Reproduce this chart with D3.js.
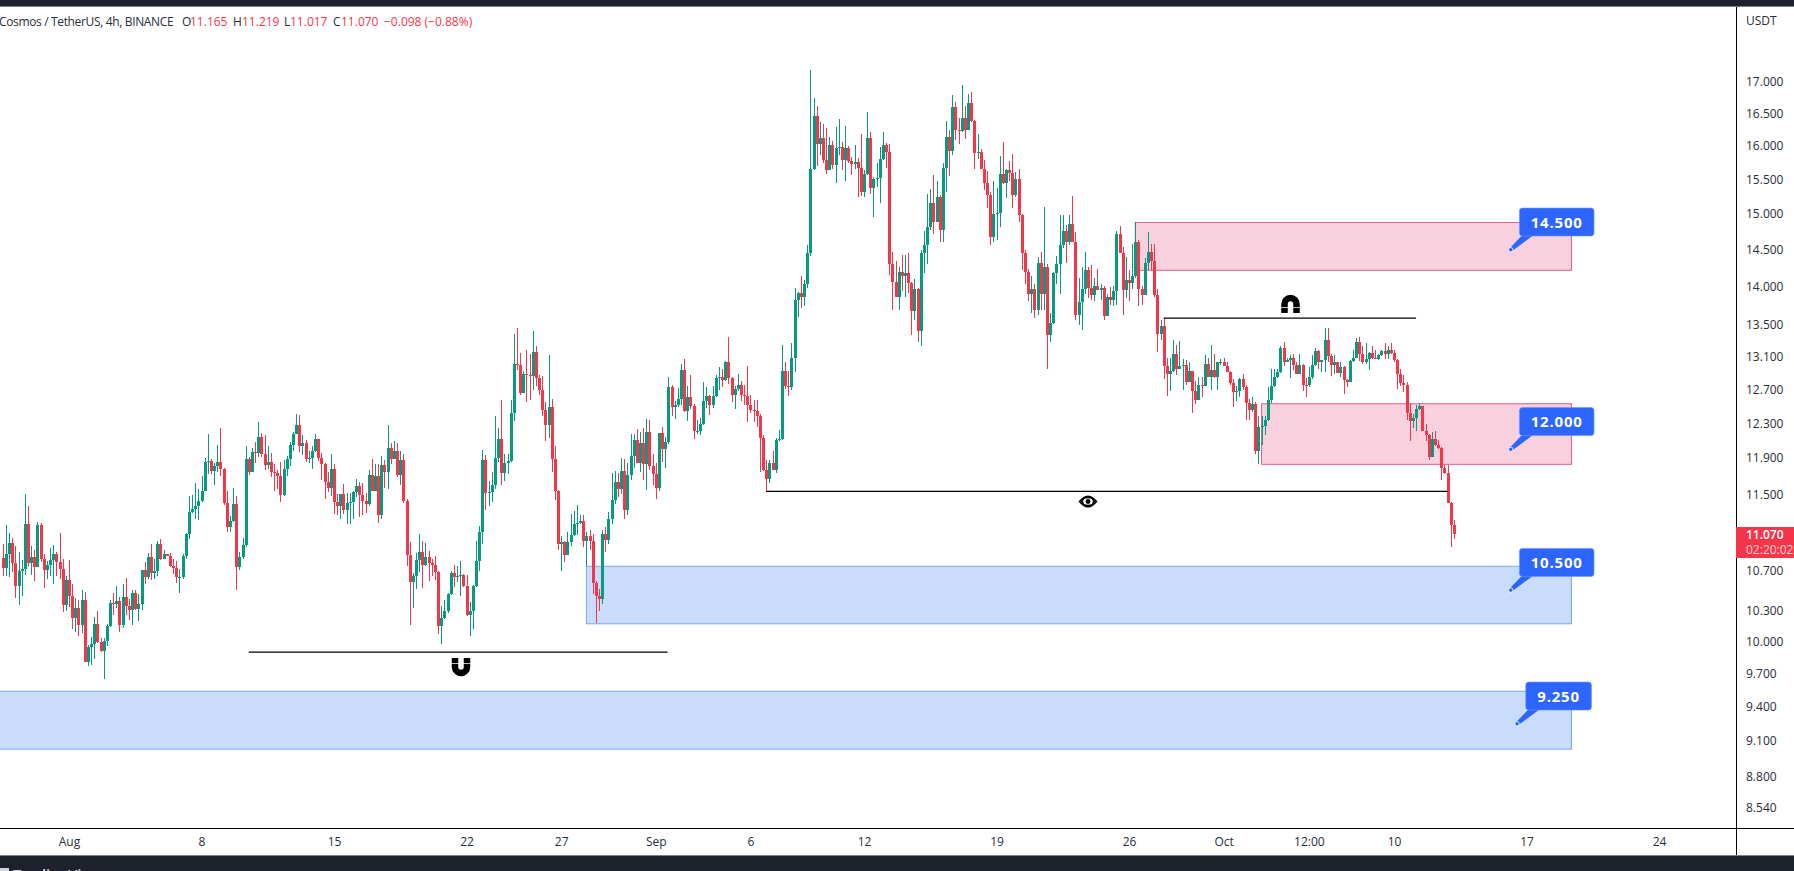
<!DOCTYPE html>
<html>
<head>
<meta charset="utf-8">
<title>Cosmos / TetherUS, 4h, BINANCE</title>
<script src="https://cdn.jsdelivr.net/npm/d3@7"></script>
<style>
    html, body { margin: 0; padding: 0; background: #fff; overflow: hidden; }
    svg { display: block; }
    text { font-family: "Open Sans", sans-serif; }
</style>
</head>
<body>
<svg id="chart" width="1794" height="871"></svg>
<script>

//
// DATA:
//

const lastCandle = Date.UTC(2022, 9, 13, 4);
const fourHours = 4 * 3600 * 1000;
const firstOpen = 10.82;

const closes = [
    10.72,10.87,10.98,10.77,10.54,10.69,10.71,11.18,10.77,10.84,
    10.73,11.17,10.81,10.70,10.75,10.80,10.87,10.78,10.71,10.35,
    10.60,10.44,10.23,10.32,10.16,10.40,9.81,9.95,9.98,10.17,
    10.00,9.91,10.01,10.15,10.37,10.36,10.39,10.16,10.43,10.34,
    10.30,10.47,10.31,10.36,10.70,10.63,10.84,10.67,10.69,10.97,
    10.81,10.87,10.85,10.74,10.72,10.63,10.63,10.85,11.07,11.31,
    11.34,11.37,11.43,11.54,11.86,11.87,11.76,11.81,11.86,11.78,
    11.40,11.15,11.21,11.39,10.73,10.84,10.96,11.89,11.75,11.97,
    11.96,12.14,11.95,11.82,11.86,11.75,11.73,11.70,11.49,11.78,
    11.89,12.05,12.18,12.28,12.04,12.07,11.89,11.90,11.98,12.12,
    11.90,11.83,11.63,11.57,11.78,11.41,11.37,11.50,11.33,11.40,
    11.42,11.52,11.59,11.49,11.43,11.39,11.71,11.54,11.70,11.28,
    11.82,11.74,12.01,11.89,11.98,11.71,11.88,11.43,10.86,10.58,
    10.64,10.80,10.89,10.75,10.83,10.77,10.75,10.68,10.15,10.23,
    10.29,10.46,10.67,10.63,10.64,10.65,10.54,10.26,10.29,10.54,
    10.79,11.09,11.88,11.51,11.52,11.60,11.90,12.12,11.73,11.85,
    11.87,12.42,13.01,13.00,12.66,12.89,12.87,12.86,13.16,12.84,
    12.70,12.46,12.28,12.49,11.89,11.54,10.97,10.99,10.86,10.99,
    11.06,11.18,11.19,11.21,11.00,11.05,11.00,10.57,10.44,10.41,
    11.07,11.01,11.23,11.44,11.63,11.56,11.76,11.33,11.71,11.92,
    12.11,11.85,12.07,11.83,12.20,11.81,11.72,11.57,12.19,12.00,
    12.08,12.73,12.49,12.51,12.59,12.94,12.44,12.61,12.50,12.21,
    12.21,12.29,12.56,12.62,12.51,12.62,12.84,12.85,12.81,13.04,
    12.84,12.63,12.71,12.76,12.63,12.62,12.51,12.46,12.44,12.39,
    12.13,11.77,11.67,11.85,11.77,12.11,12.12,12.92,12.74,12.73,
    13.08,13.83,13.92,13.86,14.03,14.46,15.65,16.46,16.03,16.12,
    15.79,15.64,16.01,15.72,15.97,15.98,15.79,15.97,15.77,15.73,
    15.76,15.67,15.32,15.58,16.12,15.38,15.51,15.52,15.80,16.01,
    15.91,14.30,14.06,13.87,14.20,14.14,14.18,14.05,13.68,13.97,
    13.43,14.45,14.57,14.82,15.16,14.88,15.24,14.78,15.67,16.13,
    15.92,16.60,16.24,16.23,16.43,16.24,16.66,16.38,15.90,15.91,
    15.65,15.45,15.27,14.68,15.00,15.02,15.58,15.45,15.64,15.59,
    15.27,15.51,14.99,14.46,14.20,13.90,13.97,13.70,14.32,13.90,
    14.27,13.38,13.53,14.19,14.30,14.57,14.76,14.61,14.86,14.61,
    13.63,13.80,13.97,14.23,13.98,13.89,14.01,13.96,13.98,13.62,
    13.87,13.82,13.95,14.72,14.46,13.96,14.09,14.05,14.14,14.61,
    13.97,13.89,14.32,14.47,14.34,13.89,13.39,13.49,12.99,12.89,
    12.92,13.14,12.95,12.99,13.00,12.79,12.92,12.68,12.58,12.76,
    12.74,13.01,12.85,12.94,12.85,13.03,13.04,12.99,12.91,12.78,
    12.67,12.68,12.83,12.73,12.54,12.46,12.53,11.98,12.26,12.27,
    12.34,12.58,12.74,12.85,12.91,13.21,13.04,13.06,13.08,13.00,
    12.89,13.00,12.76,12.75,12.85,13.00,13.17,13.04,13.06,13.31,
    13.11,13.00,13.03,12.90,12.97,12.81,12.79,13.05,13.09,13.28,
    13.14,13.03,13.07,13.15,13.08,13.07,13.12,13.17,13.14,13.18,
    13.15,13.06,12.89,12.78,12.76,12.42,12.33,12.36,12.47,12.50,
    12.21,12.16,11.91,12.12,12.05,12.01,11.79,11.73,11.40,11.17,
    11.07
];

const highs = [
    10.97,11.17,11.08,11.03,10.95,10.89,10.80,11.50,11.37,10.95,
    10.91,11.20,11.19,10.87,10.79,10.93,10.96,10.89,11.08,10.81,
    10.64,10.80,10.56,10.42,10.40,10.50,10.48,9.97,10.04,10.24,
    10.29,10.03,10.03,10.17,10.40,10.47,10.54,10.43,10.56,10.62,
    10.41,10.50,10.50,10.46,10.70,10.78,10.88,10.97,10.81,11.00,
    11.02,10.91,10.87,10.88,10.81,10.79,10.71,10.87,11.08,11.48,
    11.49,11.62,11.56,11.70,11.90,12.17,11.89,11.85,12.05,12.24,
    11.79,11.54,11.26,11.57,11.48,10.89,11.03,12.04,11.91,12.01,
    12.08,12.32,12.19,12.16,12.04,11.96,11.83,11.77,11.86,11.88,
    11.92,12.08,12.20,12.41,12.40,12.16,12.11,11.98,12.04,12.18,
    12.12,11.96,11.84,11.74,11.95,11.83,11.50,11.50,11.61,11.51,
    11.51,11.53,11.67,11.63,11.62,11.51,11.77,11.89,11.83,11.83,
    11.92,11.88,12.28,12.07,12.09,12.07,11.98,11.95,11.45,10.99,
    10.67,10.88,11.07,11.00,10.98,10.90,10.81,10.85,10.69,10.34,
    10.40,10.47,10.69,10.75,10.74,10.79,10.66,10.65,10.38,10.55,
    11.00,11.16,11.99,11.94,11.64,11.74,12.39,12.24,12.57,11.95,
    11.95,12.58,13.39,13.46,13.15,12.92,13.18,13.14,13.43,13.23,
    12.87,12.86,12.55,13.12,12.59,12.04,11.55,11.05,11.00,11.10,
    11.29,11.32,11.38,11.28,11.28,11.09,11.12,11.07,10.59,10.51,
    11.12,11.15,11.31,11.73,11.76,11.73,11.90,11.89,11.85,12.17,
    12.18,12.23,12.20,12.24,12.35,12.34,11.95,11.85,12.19,12.26,
    12.14,12.85,12.75,12.56,12.72,13.01,13.07,12.74,12.87,12.53,
    12.34,12.36,12.79,12.73,12.64,12.74,12.87,12.97,12.95,13.05,
    13.35,12.85,12.74,12.89,12.80,12.75,12.99,12.64,12.57,12.58,
    12.41,12.16,11.88,11.88,11.98,12.13,12.22,13.25,13.03,12.92,
    13.27,13.98,13.93,14.15,14.09,14.56,17.19,16.74,16.61,16.37,
    16.34,16.28,16.13,16.07,16.29,16.41,16.06,16.31,16.00,15.83,
    16.01,15.82,16.18,15.64,16.52,16.22,15.54,15.74,15.98,16.21,
    16.05,16.03,14.47,14.35,14.27,14.43,14.43,14.45,14.06,14.10,
    13.98,14.49,14.76,15.29,15.36,15.56,15.47,15.27,15.74,16.38,
    16.24,16.79,16.68,16.43,16.95,16.61,16.81,16.84,16.40,16.18,
    15.95,15.79,15.62,15.31,15.47,15.38,15.85,16.06,15.65,15.77,
    15.88,15.61,15.65,15.00,14.49,14.24,14.14,14.03,14.40,14.47,
    15.10,14.31,13.65,14.20,14.42,14.99,14.99,14.85,14.99,15.26,
    14.75,14.12,14.27,14.47,14.27,14.29,14.12,14.24,14.04,14.01,
    13.90,14.00,14.01,14.76,14.83,14.54,14.40,14.23,14.58,14.89,
    14.64,14.01,14.39,14.74,14.58,14.58,13.97,13.57,13.59,13.09,
    13.09,13.31,13.25,13.30,13.07,13.06,13.03,12.92,12.80,12.85,
    12.85,13.12,13.09,13.25,13.14,13.04,13.07,13.09,13.03,12.92,
    12.83,12.74,12.84,12.89,12.75,12.59,12.61,12.55,12.39,12.39,
    12.39,12.73,12.95,12.95,12.95,13.24,13.28,13.09,13.12,13.14,
    13.04,13.14,13.01,12.84,12.97,13.12,13.21,13.19,13.06,13.46,
    13.46,13.14,13.12,13.04,13.03,12.99,12.83,13.06,13.19,13.34,
    13.35,13.23,13.27,13.16,13.23,13.19,13.14,13.19,13.27,13.24,
    13.27,13.19,13.07,12.95,12.87,12.79,12.53,12.41,12.51,12.54,
    12.50,12.29,12.18,12.20,12.21,12.11,12.03,11.82,11.82,11.41,
    11.22
];

const lows = [
    10.64,10.64,10.63,10.68,10.42,10.35,10.44,10.65,10.74,10.65,
    10.59,10.73,10.78,10.52,10.61,10.64,10.56,10.64,10.61,10.28,
    10.29,10.33,10.12,10.09,10.05,10.08,9.81,9.77,9.78,9.84,
    9.99,9.90,9.65,9.96,10.14,10.26,10.32,10.09,10.13,10.26,
    10.21,10.16,10.30,10.20,10.30,10.56,10.61,10.60,10.61,10.64,
    10.80,10.81,10.85,10.73,10.66,10.57,10.47,10.61,10.81,11.02,
    11.30,11.23,11.22,11.41,11.53,11.72,11.72,11.60,11.75,11.70,
    11.38,11.09,11.10,11.20,10.50,10.70,10.81,10.94,11.71,11.74,
    11.85,11.91,11.91,11.77,11.78,11.69,11.54,11.56,11.42,11.48,
    11.70,11.81,11.98,12.17,11.97,11.94,11.86,11.84,11.78,11.97,
    11.87,11.66,11.45,11.52,11.48,11.29,11.27,11.23,11.29,11.18,
    11.18,11.23,11.47,11.25,11.28,11.30,11.37,11.53,11.53,11.19,
    11.23,11.57,11.56,11.83,11.89,11.69,11.60,11.40,10.74,10.16,
    10.32,10.51,10.68,10.52,10.74,10.59,10.64,10.60,10.07,9.98,
    10.22,10.27,10.45,10.53,10.58,10.44,10.53,10.25,10.05,10.12,
    10.53,10.69,10.97,11.33,11.37,11.42,11.56,11.86,11.60,11.64,
    11.72,11.86,12.33,12.94,12.63,12.66,12.55,12.57,12.70,12.74,
    12.63,12.39,12.09,12.13,11.74,11.44,10.91,10.69,10.78,10.86,
    10.95,11.05,11.06,11.18,10.94,10.74,10.91,10.46,10.18,10.29,
    10.36,10.89,10.97,11.18,11.39,11.47,11.50,11.23,11.28,11.66,
    11.79,11.85,11.75,11.66,11.55,11.77,11.60,11.45,11.54,11.86,
    11.79,12.06,12.39,12.35,12.49,12.51,12.43,12.33,12.47,12.12,
    12.18,12.16,12.28,12.48,12.40,12.48,12.61,12.70,12.73,12.80,
    12.77,12.55,12.47,12.68,12.56,12.51,12.32,12.42,12.32,12.26,
    11.75,11.76,11.53,11.62,11.77,11.73,12.09,12.11,12.71,12.62,
    12.70,12.91,13.60,13.72,13.75,13.98,14.42,15.64,15.70,15.86,
    15.75,15.58,15.64,15.65,15.45,15.86,15.64,15.48,15.75,15.56,
    15.65,15.24,15.26,15.24,15.56,15.29,14.96,15.39,15.16,15.79,
    15.67,14.16,13.70,13.86,13.70,13.95,13.87,13.92,13.38,13.56,
    13.29,13.24,14.19,14.31,14.78,14.72,14.88,14.60,14.61,15.32,
    15.55,15.86,16.09,16.03,16.22,16.10,16.24,16.37,15.65,15.80,
    15.65,15.35,15.08,14.57,14.60,14.64,14.81,15.44,15.23,15.47,
    15.09,15.24,14.88,14.23,14.03,13.81,13.66,13.59,13.63,13.69,
    13.69,12.95,13.29,13.52,14.04,13.90,14.52,14.32,14.56,14.61,
    13.57,13.50,13.44,13.90,13.85,13.82,13.81,13.96,13.82,13.56,
    13.62,13.76,13.75,13.76,14.46,13.63,13.85,13.81,13.97,14.12,
    13.75,13.76,13.89,14.23,14.23,13.87,13.16,13.31,12.83,12.62,
    12.68,12.91,12.87,12.95,12.69,12.76,12.79,12.42,12.53,12.58,
    12.61,12.74,12.85,12.69,12.84,12.70,13.00,12.99,12.91,12.76,
    12.49,12.56,12.61,12.70,12.34,12.34,12.43,11.95,11.83,12.05,
    12.16,12.33,12.54,12.73,12.84,12.90,12.99,13.04,12.84,12.94,
    12.89,12.89,12.68,12.61,12.73,12.83,12.99,12.95,12.91,12.91,
    13.04,12.86,12.89,12.90,12.85,12.65,12.73,12.79,13.04,13.08,
    13.05,13.01,13.01,12.94,13.07,13.07,13.06,13.11,13.07,13.07,
    13.14,13.04,12.71,12.74,12.67,12.34,12.09,12.24,12.21,12.46,
    12.21,12.09,11.88,11.91,12.04,12.00,11.66,11.72,11.40,10.94,
    11.02
];

const priceTicks = [17, 16.5, 16, 15.5, 15, 14.5, 14, 13.5, 13.1, 12.7, 12.3, 11.9, 11.5, 10.7, 10.3, 10, 9.7, 9.4, 9.1, 8.8, 8.54];

const timeTicks = [
    Date.UTC(2022, 7, 1), Date.UTC(2022, 7, 8), Date.UTC(2022, 7, 15), Date.UTC(2022, 7, 22), Date.UTC(2022, 7, 27),
    Date.UTC(2022, 8, 1), Date.UTC(2022, 8, 6), Date.UTC(2022, 8, 12), Date.UTC(2022, 8, 19), Date.UTC(2022, 8, 26),
    Date.UTC(2022, 9, 1), Date.UTC(2022, 9, 5, 12), Date.UTC(2022, 9, 10), Date.UTC(2022, 9, 17), Date.UTC(2022, 9, 24)
];
const timeLabels = ["Aug", "8", "15", "22", "27", "Sep", "6", "12", "19", "26", "Oct", "12:00", "10", "17", "24"];

// zones: top price, bottom price, start, end
const zones = [
    { top: 14.88, bottom: 14.22, start: Date.UTC(2022, 8, 26, 8), end: Date.UTC(2022, 9, 19, 9), kind: "supply" },
    { top: 12.53, bottom: 11.83, start: Date.UTC(2022, 9, 3), end: Date.UTC(2022, 9, 19, 9), kind: "supply" },
    { top: 10.74, bottom: 10.17, start: Date.UTC(2022, 7, 28, 8), end: Date.UTC(2022, 9, 19, 9), kind: "demand" },
    { top: 9.54, bottom: 9.03, start: Date.UTC(2022, 6, 20), end: Date.UTC(2022, 9, 19, 9), kind: "demand" }
];

const levels = [
    { price: 9.90, start: Date.UTC(2022, 7, 10, 12), end: Date.UTC(2022, 8, 1, 15) },
    { price: 11.53, start: Date.UTC(2022, 8, 6, 20), end: Date.UTC(2022, 9, 12, 20) },
    { price: 13.59, start: Date.UTC(2022, 8, 27, 20), end: Date.UTC(2022, 9, 11, 4) }
];

const targets = [
    { price: 14.5, label: "14.500", time: Date.UTC(2022, 9, 16, 4), width: 74.6 },
    { price: 12, label: "12.000", time: Date.UTC(2022, 9, 16, 4), width: 74.6 },
    { price: 10.5, label: "10.500", time: Date.UTC(2022, 9, 16, 4), width: 74.6 },
    { price: 9.25, label: "9.250", time: Date.UTC(2022, 9, 16, 12), width: 65.7 }
];

const candles = closes.map((close, i) => ({
    time: lastCandle - (closes.length - 1 - i) * fourHours,
    open: i === 0 ? firstOpen : closes[i - 1],
    high: highs[i],
    low: lows[i],
    close: close
}));

//
// SCALES:
//

const green = "#089981";
const red = "#f5364a";
const inkColor = "#2a2e39";

const xScale = d3.scaleUtc()
    .domain([Date.UTC(2022, 7, 1), Date.UTC(2022, 9, 24)])
    .range([69, 1659]);

const yScale = d3.scaleLog()
    .domain([8.54, 17])
    .range([808, 82]);

const svg = d3.select("#chart");

svg.append("defs").append("clipPath")
    .attr("id", "plot")
    .append("rect")
        .attr("width", 1736)
        .attr("height", 828);

const plot = svg.append("g").attr("clip-path", "url(#plot)");

//
// ZONES + LEVELS:
//

plot.append("g")
    .selectAll("rect")
    .data(zones)
    .enter().append("rect")
        .attr("x", d => xScale(d.start))
        .attr("y", d => yScale(d.top))
        .attr("width", d => xScale(d.end) - xScale(d.start))
        .attr("height", d => yScale(d.bottom) - yScale(d.top))
        .style("fill", d => d.kind === "supply" ? "#f8d0de" : "#c9dcfc")
        .style("stroke", d => d.kind === "supply" ? "#e0608f" : "#7ba7f2")
        .style("stroke-width", 1);

//
// CANDLES:
//

const candle = plot.append("g")
    .attr("shape-rendering", "crispEdges")
    .selectAll("g")
    .data(candles)
    .enter().append("g")
        .style("fill", d => d.close >= d.open ? green : red);

candle.append("rect")
    .attr("x", d => Math.round(xScale(d.time)))
    .attr("y", d => yScale(d.high))
    .attr("width", 1)
    .attr("height", d => yScale(d.low) - yScale(d.high));

candle.append("rect")
    .attr("x", d => Math.round(xScale(d.time)) - 1)
    .attr("y", d => yScale(Math.max(d.open, d.close)))
    .attr("width", 3)
    .attr("height", d => Math.max(1, Math.abs(yScale(d.open) - yScale(d.close))));

plot.append("g")
    .selectAll("line")
    .data(levels)
    .enter().append("line")
        .attr("x1", d => xScale(d.start))
        .attr("x2", d => xScale(d.end))
        .attr("y1", d => yScale(d.price))
        .attr("y2", d => yScale(d.price))
        .style("stroke", "#000")
        .style("stroke-width", 1.2);

//
// ICONS:
//

const drawMagnet = (x, y, flip) => {
    let g = plot.append("g")
        .attr("transform", `translate(${x}, ${y}) scale(1, ${flip ? -1 : 1})`);
    g.append("path")
        .attr("d", "M-6,-9 V0 A6,6 0 0 0 6,0 V-9")
        .style("fill", "none")
        .style("stroke", "#000")
        .style("stroke-width", 6.5);
    g.append("rect")
        .attr("x", -10)
        .attr("y", -4)
        .attr("width", 20)
        .attr("height", 1)
        .style("fill", "#fff")
        .style("opacity", 0.75);
};

drawMagnet(461, 667, false);
drawMagnet(1290.5, 304, true);

const eye = plot.append("g").attr("transform", "translate(1088, 501.5)");
eye.append("path")
    .attr("d", "M-9.5,0 Q0,-12 9.5,0 Q0,12 -9.5,0 Z")
    .style("fill", "#000");
eye.append("ellipse")
    .attr("rx", 4.8)
    .attr("ry", 3.2)
    .style("fill", "#fff");
eye.append("circle")
    .attr("r", 2.4)
    .style("fill", "#000");

//
// TARGET TAGS:
//

const tag = plot.append("g")
    .selectAll("g")
    .data(targets)
    .enter().append("g")
        .attr("transform", d => `translate(${xScale(d.time)}, ${yScale(d.price)})`);

tag.append("path")
    .attr("d", "M-1,-1.5 L11,-14 L22,-14 L1,1.5 Z")
    .style("fill", "#2c65ff");

tag.append("rect")
    .attr("x", 8.7)
    .attr("y", -41.7)
    .attr("width", d => d.width)
    .attr("height", 28)
    .attr("rx", 3)
    .style("fill", "#2c65ff")
    .style("stroke", "#6b93ff")
    .style("stroke-width", 0.6);

tag.append("circle")
    .attr("r", 2.2)
    .style("fill", "#2c65ff")
    .style("stroke", "#fff")
    .style("stroke-width", 0.8);

tag.append("text")
    .attr("x", d => 8.7 + d.width / 2)
    .attr("y", -22.2)
    .style("text-anchor", "middle")
    .style("fill", "#fff")
    .style("font-size", "15px")
    .style("font-weight", 700)
    .style("letter-spacing", "0.8px")
    .text(d => d.label);

//
// AXES:
//

const timeAxis = d3.axisBottom(xScale)
    .tickValues(timeTicks)
    .tickSize(0)
    .tickPadding(0)
    .tickFormat((d, i) => timeLabels[i]);

const timeG = svg.append("g")
    .attr("transform", "translate(0, 828)")
    .call(timeAxis);
timeG.select(".domain").remove();
timeG.selectAll("text")
    .attr("y", 14)
    .attr("dy", "0.32em")
    .style("font-family", "'Open Sans', sans-serif")
    .style("font-size", "12px")
    .style("fill", inkColor);

const priceAxis = d3.axisRight(yScale)
    .tickValues(priceTicks)
    .tickSize(0)
    .tickPadding(10)
    .tickFormat(d => d.toFixed(3));

const priceG = svg.append("g")
    .attr("transform", "translate(1736, 0)")
    .call(priceAxis);
priceG.select(".domain").remove();
priceG.selectAll("text")
    .style("font-family", "'Open Sans', sans-serif")
    .style("font-size", "12px")
    .style("fill", inkColor);

svg.append("line")
    .attr("x1", 0).attr("x2", 1794).attr("y1", 828.5).attr("y2", 828.5)
    .style("stroke", "#000");
svg.append("line")
    .attr("x1", 1736.5).attr("x2", 1736.5).attr("y1", 6).attr("y2", 856)
    .style("stroke", "#000");

svg.append("text")
    .attr("x", 1746).attr("y", 25)
    .style("font-size", "12px")
    .style("fill", inkColor)
    .text("USDT");

//
// LAST PRICE:
//

const lastPrice = closes[closes.length - 1];

svg.append("rect")
    .attr("x", 1736).attr("y", 527)
    .attr("width", 58).attr("height", 31)
    .style("fill", red);
svg.append("text")
    .attr("x", 1746).attr("y", yScale(lastPrice) + 4.5)
    .style("font-size", "12px")
    .style("font-weight", 600)
    .style("fill", "#fff")
    .text(lastPrice.toFixed(3));
svg.append("text")
    .attr("x", 1746).attr("y", 554)
    .style("font-size", "12px")
    .style("fill", "#ffd2d7")
    .text("02:20:02");

//
// HEADER / FOOTER:
//

const drawInfo = (x, txt, color, spacing) => {
    svg.append("text")
        .attr("x", x).attr("y", 26)
        .style("font-size", "12px")
        .style("letter-spacing", spacing || "0")
        .style("fill", color)
        .text(txt);
};

drawInfo(-1, "Cosmos / TetherUS, 4h, BINANCE", inkColor, "-0.35px");
drawInfo(182, "O", inkColor);
drawInfo(190, "11.165", red);
drawInfo(233, "H", inkColor);
drawInfo(242, "11.219", red);
drawInfo(284, "L", inkColor);
drawInfo(290, "11.017", red);
drawInfo(333, "C", inkColor);
drawInfo(341, "11.070", red);
drawInfo(384, "\u22120.098 (\u22120.88%)", red);

svg.append("rect").attr("width", 1794).attr("height", 6).style("fill", "#1e222d");
svg.append("rect").attr("y", 6).attr("width", 1794).attr("height", 1).style("fill", "#7d808a");
svg.append("rect").attr("y", 856).attr("width", 1794).attr("height", 15).style("fill", "#1e222d");
svg.append("rect").attr("y", 855).attr("width", 1794).attr("height", 1).style("fill", "#7d808a");
svg.append("text")
    .attr("x", 13).attr("y", 880)
    .style("font-size", "15px")
    .style("font-weight", 600)
    .style("fill", "#d1d4dc")
    .text("TradingView");
svg.append("rect").attr("x", 0).attr("y", 868).attr("width", 9).attr("height", 3).style("fill", "#d1d4dc");

</script>
</body>
</html>
